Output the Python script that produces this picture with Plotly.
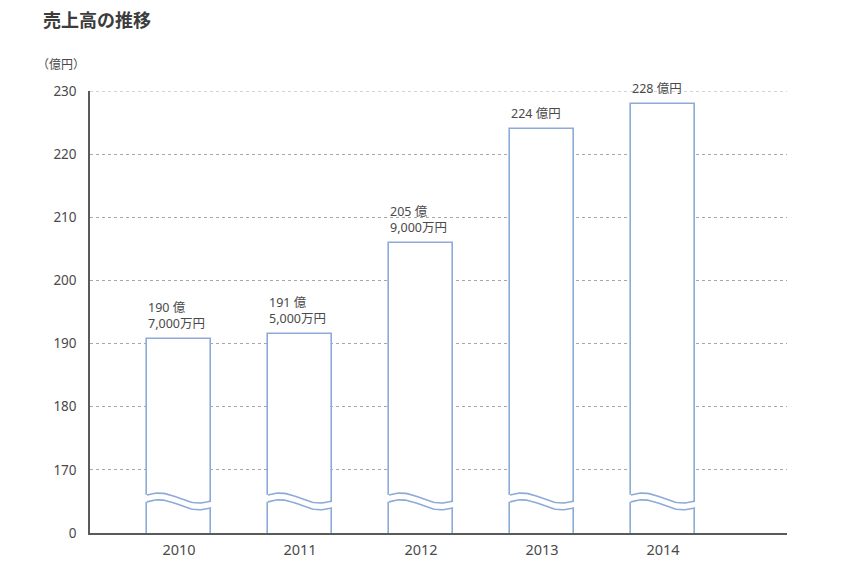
import numpy as np
import plotly.graph_objects as go

# ---- data ----
years = ["2010", "2011", "2012", "2013", "2014"]
sales = [190.7, 191.5, 205.9, 224.0, 228.0]  # 億円
bar_labels = ["190 億<br>7,000万円", "191 億<br>5,000万円", "205 億<br>9,000万円",
              "224 億円", "228 億円"]
ytick_vals = [160, 170, 180, 190, 200, 210, 220, 230]
ytick_text = ["0", "170", "180", "190", "200", "210", "220", "230"]

# ---- style ----
BAR_W = 0.529
BLUE = "#8eaad9"
GRID = "#a8a8a8"
AXIS = "#5a5a5a"
TEXT = "#4a4a4a"
FONT = "Noto Sans, Noto Sans CJK JP, sans-serif"
W, H = 837, 564
ML, MR, MT, MB = 82, 58, 83, 39

x_idx = list(range(len(years)))

fig = go.Figure()
fig.add_trace(go.Bar(
    x=x_idx, y=sales, width=BAR_W,
    marker=dict(color="white", line=dict(color=BLUE, width=1.6)),
    hoverinfo="skip", showlegend=False,
))

# wavy axis-break decoration on each bar
t = np.linspace(0, 1, 40)
wave = 0.79 * np.sin(0.64 + 5.03 * t)
upper = 165.54 + wave
lower = upper - 1.08
for i in x_idx:
    xs = i - BAR_W / 2 + t * BAR_W
    pad = 0.03
    xs_band = np.concatenate([[xs[0] - pad], xs, [xs[-1] + pad]])
    up_band = np.concatenate([[upper[0]], upper, [upper[-1]]])
    lo_band = np.concatenate([[lower[0]], lower, [lower[-1]]])
    fig.add_trace(go.Scatter(
        x=np.concatenate([xs_band, xs_band[::-1]]),
        y=np.concatenate([up_band, lo_band[::-1]]),
        fill="toself", fillcolor="white", mode="lines",
        line=dict(width=0, color="white"), hoverinfo="skip", showlegend=False,
    ))
    for yy in (upper, lower):
        fig.add_trace(go.Scatter(
            x=xs, y=yy, mode="lines", line=dict(color=BLUE, width=1.6),
            hoverinfo="skip", showlegend=False,
        ))

plot_w = W - ML - MR
plot_h = H - MT - MB

annotations = []
for i, (v, lab) in enumerate(zip(sales, bar_labels)):
    annotations.append(dict(
        x=i - BAR_W / 2 - 0.005, y=v, xref="x", yref="y", text=lab,
        showarrow=False, xanchor="left", yanchor="bottom", align="left",
        yshift=5, font=dict(size=12.5, color=TEXT, family=FONT),
    ))
annotations.append(dict(
    x=(27 - ML) / plot_w, y=1 + (MT - 56) / plot_h, xref="paper", yref="paper",
    text="（億円）", showarrow=False, xanchor="left", yanchor="middle",
    font=dict(size=12, color=TEXT, family=FONT),
))

# dashed top gridline at 230
fig.add_shape(type="line", xref="paper", yref="y", x0=0, x1=1, y0=230, y1=230,
              line=dict(color=GRID, width=1, dash="3px,3px"), layer="below")

fig.update_layout(
    width=W, height=H,
    margin=dict(l=ML, r=MR, t=MT, b=MB),
    paper_bgcolor="white", plot_bgcolor="white",
    title=dict(text="売上高の推移", xref="container", yref="container",
               x=35 / W, y=1 - 13 / H, xanchor="left", yanchor="middle",
               font=dict(size=18, color="#3c3c3c", family=FONT, weight="bold")),
    annotations=annotations,
    bargap=0,
)
fig.update_xaxes(
    range=[-0.7355, 5.025], tickvals=x_idx, ticktext=years,
    showgrid=False, zeroline=False, showline=True, linecolor=AXIS, linewidth=1.5,
    ticks="", tickfont=dict(size=14.5, color=TEXT, family=FONT),
    ticklabelstandoff=3,
)
fig.update_yaxes(
    range=[160, 230], tickvals=ytick_vals, ticktext=ytick_text,
    showgrid=True, gridcolor=GRID, gridwidth=1, griddash="3px,3px",
    zeroline=False, showline=True, linecolor=AXIS, linewidth=1.5,
    ticks="", tickfont=dict(size=13.5, color=TEXT, family=FONT),
    ticklabelstandoff=9,
)

fig.write_html("out.html")
